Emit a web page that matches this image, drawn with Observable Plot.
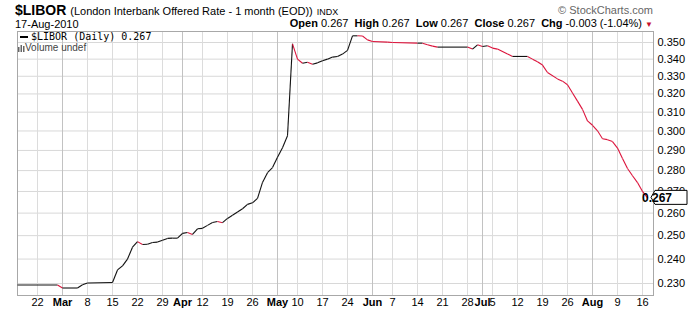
<!DOCTYPE html>
<html><head><meta charset="utf-8">
<script src="https://cdn.jsdelivr.net/npm/d3@7"></script>
<script src="https://cdn.jsdelivr.net/npm/@observablehq/plot@0.6"></script>
<style>
body{margin:0;background:#fff;font-family:Arial,"Liberation Sans",sans-serif;color:#000}
#wrap{position:relative;width:700px;height:312px;overflow:hidden}
#wrap svg.plot{position:absolute;left:0;top:0}
.h{position:absolute;white-space:nowrap;line-height:1;z-index:2}
</style></head><body>
<div id="wrap">
  <div class="h" style="left:15px;top:3px;font-size:14px"><b>$LIBOR</b> <span style="font-size:11px">(London Interbank Offered Rate - 1 month (EOD))</span> <span style="font-size:9px">INDX</span></div>
  <div class="h" style="left:15px;top:19px;font-size:11px">17-Aug-2010</div>
  <div class="h" style="right:47px;top:5px;font-size:11px;color:#666">© StockCharts.com</div>
  <div class="h" style="right:47px;top:18px;font-size:11px"><b>Open</b> 0.267&nbsp; <b>High</b> 0.267&nbsp; <b>Low</b> 0.267&nbsp; <b>Close</b> 0.267&nbsp; <b>Chg</b> -0.003 (-1.04%) <span style="color:#c8102e;font-size:8px">▼</span></div>
  <div class="h" style="left:20px;top:32px;font-family:'DejaVu Sans Mono',monospace;font-size:10px"><span style="display:inline-block;width:8px;height:2px;background:#000;vertical-align:middle;margin-right:3px"></span>$LIBOR (Daily) 0.267</div>
  <div class="h" style="left:18px;top:43px;font-size:10px;color:#444"><svg width="7" height="8" style="vertical-align:-1px"><rect x="0" y="3" width="1.5" height="5" fill="#666"/><rect x="2.5" y="1" width="1.5" height="7" fill="#666"/><rect x="5" y="2" width="1.5" height="6" fill="#666"/></svg>Volume undef</div>
</div>
<script>
// ---- data ----
const dates = ["2010-02-16","2010-02-26","2010-03-01","2010-03-04","2010-03-05","2010-03-08","2010-03-15","2010-03-16","2010-03-17","2010-03-18","2010-03-19","2010-03-22","2010-03-23","2010-03-24","2010-03-25","2010-03-26","2010-03-29","2010-03-30","2010-03-31","2010-04-01","2010-04-06","2010-04-07","2010-04-08","2010-04-09","2010-04-12","2010-04-13","2010-04-14","2010-04-15","2010-04-16","2010-04-19","2010-04-20","2010-04-21","2010-04-22","2010-04-23","2010-04-26","2010-04-27","2010-04-28","2010-04-29","2010-04-30","2010-05-04","2010-05-05","2010-05-06","2010-05-07","2010-05-10","2010-05-11","2010-05-12","2010-05-13","2010-05-14","2010-05-17","2010-05-18","2010-05-19","2010-05-20","2010-05-21","2010-05-24","2010-05-25","2010-05-26","2010-05-27","2010-05-28","2010-06-01","2010-06-04","2010-06-07","2010-06-14","2010-06-15","2010-06-16","2010-06-17","2010-06-18","2010-06-28","2010-06-29","2010-06-30","2010-07-01","2010-07-02","2010-07-05","2010-07-06","2010-07-08","2010-07-09","2010-07-14","2010-07-15","2010-07-16","2010-07-19","2010-07-20","2010-07-22","2010-07-23","2010-07-26","2010-07-27","2010-07-28","2010-07-29","2010-07-30","2010-08-02","2010-08-03","2010-08-04","2010-08-05","2010-08-06","2010-08-09","2010-08-10","2010-08-11","2010-08-12","2010-08-13","2010-08-16","2010-08-17"];
const values = [0.2294,0.2294,0.2282,0.2282,0.2295,0.2302,0.2304,0.2355,0.2372,0.2400,0.2450,0.2474,0.2462,0.2463,0.2470,0.2472,0.2480,0.2488,0.2489,0.2489,0.2510,0.2514,0.2505,0.2530,0.2532,0.2545,0.2558,0.2562,0.2557,0.2576,0.2590,0.2605,0.2620,0.2640,0.2647,0.2668,0.2743,0.2790,0.2815,0.2866,0.2914,0.2975,0.3492,0.3400,0.3376,0.3382,0.3370,0.3378,0.3391,0.3400,0.3412,0.3416,0.3430,0.3452,0.3541,0.3541,0.3540,0.3516,0.3506,0.3502,0.3500,0.3496,0.3496,0.3486,0.3478,0.3472,0.3472,0.3460,0.3486,0.3476,0.3480,0.3466,0.3460,0.3431,0.3416,0.3416,0.3400,0.3385,0.3365,0.3322,0.3285,0.3272,0.3252,0.3205,0.3160,0.3115,0.3053,0.3030,0.3001,0.2960,0.2955,0.2945,0.2912,0.2860,0.2810,0.2775,0.2742,0.2700,0.2670];
const holidays = ["2010-04-02","2010-04-05","2010-05-03","2010-05-31"];
const yTicks = [0.23,0.24,0.25,0.26,0.27,0.28,0.29,0.30,0.31,0.32,0.33,0.34,0.35];
const tickDates = ["2010-02-22","2010-03-01","2010-03-08","2010-03-15","2010-03-22","2010-03-29","2010-04-06","2010-04-12","2010-04-19","2010-04-26","2010-05-04","2010-05-10","2010-05-17","2010-05-24","2010-06-01","2010-06-07","2010-06-14","2010-06-21","2010-06-28","2010-07-01","2010-07-05","2010-07-12","2010-07-19","2010-07-26","2010-08-02","2010-08-09","2010-08-16"];
const tickLabels = ["22","Mar","8","15","22","29","Apr","12","19","26","May","10","17","24","Jun","7","14","21","28","Jul","5","12","19","26","Aug","9","16"];
const lastLabel = "0.267";

// ---- trading-day calendar (x positions are trading-day indexes) ----
const cal = [];
{
  const [y0,m0,d0] = dates[0].split("-").map(Number);
  const [y1,m1,d1] = dates[dates.length-1].split("-").map(Number);
  const end = Date.UTC(y1,m1-1,d1);
  for (let t = Date.UTC(y0,m0-1,d0); t <= end; t += 864e5) {
    const d = new Date(t), s = d.toISOString().slice(0,10), w = d.getUTCDay();
    if (w > 0 && w < 6 && !holidays.includes(s)) cal.push(s);
  }
}
const idx = new Map(cal.map((s,i)=>[s,i]));
const pts = dates.map((d,i)=>({i: idx.get(d), v: values[i]}));
const segs = pts.slice(1).map((p,k)=>({x1: pts[k].i, y1: pts[k].v, x2: p.i, y2: p.v, down: p.v < pts[k].v}));
const ticks = tickDates.map((d,k)=>({i: idx.get(d), label: tickLabels[k], month: isNaN(+tickLabels[k])}));
const weekTicks = ticks.filter(t=>!t.month), monthTicks = ticks.filter(t=>t.month);

const chart = Plot.plot({
  width: 700, height: 312,
  marginTop: 31, marginBottom: 17, marginLeft: 17, marginRight: 47,
  style: {fontFamily: "Arial, 'Liberation Sans', sans-serif", fontSize: "11px", color: "#000", background: "transparent"},
  x: {domain: [0, cal.length + 0.2], axis: null},
  y: {type: "log", domain: [0.22524, 0.35677], axis: null},
  marks: [
    Plot.gridY(yTicks, {stroke: "#d8d8d8", strokeOpacity: 1}),
    Plot.ruleX(weekTicks, {x: "i", stroke: "#dcdcdc"}),
    Plot.ruleX(monthTicks, {x: "i", stroke: "#c2c2c2"}),
    Plot.frame({stroke: "#a8a8a8"}),
    Plot.link(segs, {x1: "x1", y1: "y1", x2: "x2", y2: "y2", stroke: d => d.down ? "#dc143c" : "#111", strokeWidth: 1.1}),
    Plot.axisY({anchor: "right", ticks: yTicks, tickFormat: d3.format(".3f"), tickSize: 0, tickPadding: 4, fontSize: 11}),
    Plot.axisX(weekTicks.map(t=>t.i), {anchor: "bottom", tickSize: 0, tickPadding: 3, tickFormat: i => weekTicks.find(t=>t.i===i).label, fontSize: 11}),
    Plot.axisX(monthTicks.map(t=>t.i), {anchor: "bottom", tickSize: 0, tickPadding: 3, tickFormat: i => monthTicks.find(t=>t.i===i).label, fontSize: 11, fontWeight: "bold"})
  ]
});
chart.classList.add("plot");
document.getElementById("wrap").appendChild(chart);

// last value marker on the right axis
const sx = chart.scale("x"), sy = chart.scale("y");
const yl = sy.apply(values[values.length-1]);
const xr = sx.apply(cal.length + 0.2);
const svg = d3.select(chart);
svg.append("path")
  .attr("d", `M${xr-2},${yl} L${xr+2},${yl-7} H${xr+34} V${yl+7} H${xr+2} Z`)
  .attr("fill", "#fff").attr("stroke", "#000").attr("stroke-width", 1);
svg.append("text").attr("x", xr+4).attr("y", yl).attr("dy", "0.36em")
  .attr("font-size", 12).attr("font-weight", "bold").attr("font-family", "Arial, 'Liberation Sans', sans-serif")
  .text(lastLabel);
</script>
</body></html>
